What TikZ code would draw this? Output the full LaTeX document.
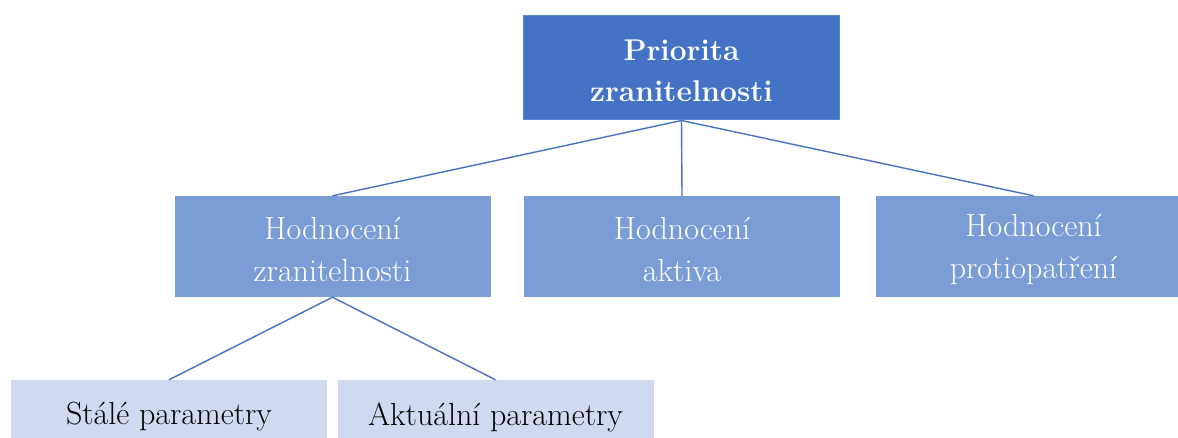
\documentclass[tikz,border=0pt]{standalone}
\usepackage{fontspec}
\setmainfont{Latin Modern Roman}
\usepackage{tikz}
\definecolor{topblue}{HTML}{4472C4}
\definecolor{topedge}{HTML}{5A86D0}
\definecolor{midblue}{HTML}{7A9DD6}
\definecolor{lowblue}{HTML}{CFDAF0}
\definecolor{linkblue}{HTML}{4472C4}
\tikzset{
  box/.style={rectangle, inner sep=0pt, minimum width=316pt},
  topbox/.style={box, fill=topblue, draw=topedge, line width=1pt, minimum height=104pt},
  midbox/.style={box, fill=midblue, minimum height=101pt},
  lowbox/.style={box, fill=lowblue, minimum height=74pt},
  toptext/.style={align=center, text=white, font=\fontsize{30}{41}\selectfont\bfseries},
  midtext/.style={align=center, text=white, font=\fontsize{32}{42}\selectfont},
  lowtext/.style={align=center, text=black, font=\fontsize{32}{42}\selectfont},
  link/.style={draw=linkblue, line width=1.4pt}
}
\begin{document}
\begin{tikzpicture}[x=1pt,y=-1pt]
\useasboundingbox (0,0) rectangle (1178,438);
\clip (0,0) rectangle (1178,438);
\node[topbox] (top) at (681.5,68) {};
\node[midbox] (m1) at (332.5,246.5) {};
\node[midbox] (m2) at (682,246.5) {};
\node[midbox] (m3) at (1033.5,246.5) {};
\node[lowbox] (b1) at (169,417) {};
\node[lowbox] (b2) at (495.5,417) {};
\node[toptext] (topt) at ([yshift=-2.5pt]top.center) {Priorita\\zranitelnosti};
\node[midtext] (m1t) at ([yshift=-3pt]m1.center) {Hodnocení\\zranitelnosti};
\node[midtext] (m2t) at ([yshift=-3pt]m2.center) {Hodnocení\\aktiva};
\node[midtext] (m3t) at ([yshift=-3pt]m3.center) {Hodnocení\\protiopatření};
\node[lowtext] (b1t) at (b1.center) {Stálé parametry};
\node[lowtext] (b2t) at (b2.center) {Aktuální parametry};
\draw[link] (top.south) -- (m1.north);
\draw[link] (top.south) -- (m2.north);
\draw[link] (top.south) -- (m3.north);
\draw[link] (m1.south) -- (b1.north);
\draw[link] (m1.south) -- (b2.north);
\end{tikzpicture}
\end{document}
